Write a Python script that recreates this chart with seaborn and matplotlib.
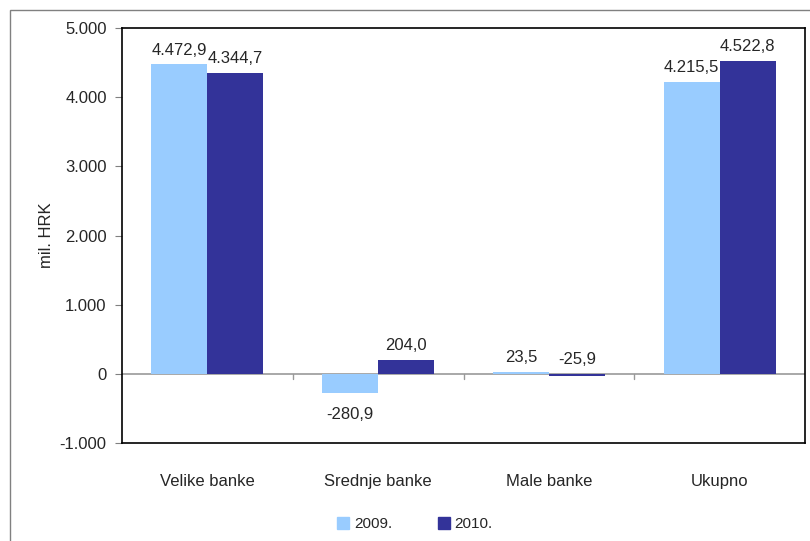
import pandas as pd
import numpy as np
import matplotlib.pyplot as plt
import matplotlib.patches as mpatches
import seaborn as sns

# data
categories = ['Velike banke', 'Srednje banke', 'Male banke', 'Ukupno']
years = ['2009.', '2010.']
vals_2009 = [4472.9, -280.9, 23.5, 4215.5]
vals_2010 = [4344.7, 204.0, -25.9, 4522.8]
colors = ['#99CCFF', '#333399']

df = pd.DataFrame({
    'kategorija': categories * 2,
    'godina': [years[0]] * 4 + [years[1]] * 4,
    'vrijednost': vals_2009 + vals_2010,
})

sns.set_style('white')
plt.rcParams['font.family'] = ['Liberation Sans', 'DejaVu Sans']

fig = plt.figure(figsize=(8.1, 5.41), dpi=100)
ax = fig.add_axes([122 / 810, 1 - 443 / 541, 683 / 810, 415 / 541])

# zero line under the bars
ax.axhline(0, color='#999999', lw=1.2, zorder=0.5)

sns.barplot(data=df, x='kategorija', y='vrijednost', hue='godina',
            palette=colors, width=0.655, saturation=1, ax=ax, legend=False,
            linewidth=0, zorder=2)

ax.set_ylim(-1000, 5000)
ax.set_xlim(-0.5, 3.5)
ax.set_yticks(np.arange(-1000, 5001, 1000))
ax.set_yticklabels(['-1.000', '0', '1.000', '2.000', '3.000', '4.000', '5.000'])
ax.tick_params(axis='y', length=5, color='#808080', labelsize=12, pad=6, left=True)
ax.set_ylabel('mil. HRK', fontsize=12, labelpad=4)
ax.set_xlabel('')
ax.set_xticks(range(4))
ax.set_xticklabels(categories, fontsize=12)
ax.tick_params(axis='x', length=0, pad=22)

for s in ax.spines.values():
    s.set_color('black')
    s.set_linewidth(1.2)

# category separators
for b in [0.5, 1.5, 2.5]:
    ax.plot([b, b], [0, -80], color='#999999', lw=1)

# value labels
def fmt(v):
    s = f'{abs(v):,.1f}'.replace(',', 'X').replace('.', ',').replace('X', '.')
    return ('-' if v < 0 else '') + s

for cont, vals in zip(ax.containers, [vals_2009, vals_2010]):
    for bar, v in zip(cont, vals):
        x = bar.get_x() + bar.get_width() / 2
        if v < -100:
            ax.annotate(fmt(v), (x, v), xytext=(0, -10), textcoords='offset points',
                        ha='center', va='top', fontsize=12)
        else:
            ax.annotate(fmt(v), (x, max(v, 0)), xytext=(0, 5), textcoords='offset points',
                        ha='center', va='bottom', fontsize=12)

# legend
handles = [mpatches.Patch(color=c, label=y) for c, y in zip(colors, years)]
fig.legend(handles=handles, loc='center', bbox_to_anchor=(415 / 810, 1 - 524 / 541),
           ncol=2, frameon=False, fontsize=11, handlelength=0.8, handleheight=0.8,
           columnspacing=3, handletextpad=0.3)

# outer chart frame
fig.patches.append(mpatches.Rectangle((10 / 810, -0.1), 1.0, 1 - 10 / 541 + 0.1,
                                      transform=fig.transFigure, fill=False,
                                      edgecolor='#808080', lw=1))

plt.savefig('out.png', dpi=100)
